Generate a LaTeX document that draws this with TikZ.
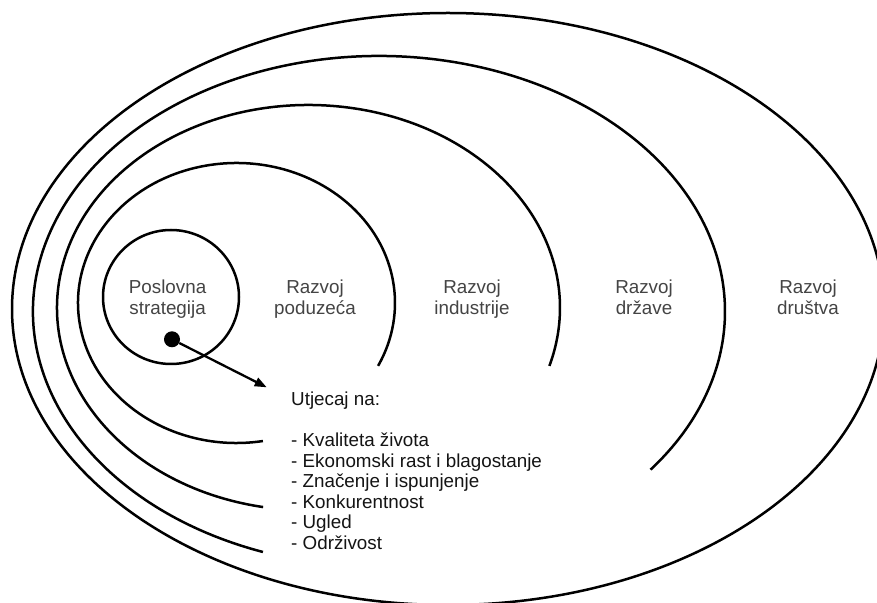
\documentclass[tikz,border=0pt]{standalone}
\usepackage{fontspec}
\setmainfont{Liberation Sans}
\usetikzlibrary{arrows.meta}
\definecolor{labelgray}{RGB}{68,68,68}
\tikzset{
  ring/.style={line width=2.5pt, draw=black},
  lbl/.style={font=\fontsize{18.8}{20.5}\selectfont, text=labelgray, align=center, inner sep=0pt},
  listtext/.style={font=\fontsize{18.8}{20.5}\selectfont, text=black!92, align=left, inner sep=0pt, anchor=north west},
  dotnode/.style={circle, fill=black, minimum size=16pt, inner sep=0pt},
  pointer/.style={line width=2.3pt, -{Triangle[length=12pt,width=9pt]}},
}
\begin{document}
\begin{tikzpicture}[x=1pt,y=1pt]
\useasboundingbox (0,0) rectangle (877,602);
\clip (0,0) rectangle (877,602);
\fill[white] (0,0) rectangle (877,602);

% society: the closed outer ellipse
\draw[ring] (448,293) ellipse [x radius=436, y radius=296];
% state: open arc
\draw[ring] ([shift={(250.4:346 and 255.4)}]379,290.6)
  arc[start angle=250.4, end angle=-38.3, x radius=346, y radius=255.4];
% industry: open arc
\draw[ring] ([shift={(259.6:251.5 and 202.7)}]308.5,294.3)
  arc[start angle=259.6, end angle=-16.7, x radius=251.5, y radius=202.7];
% company: open arc
\draw[ring] ([shift={(279.6:158.5 and 140)}]236.5,299)
  arc[start angle=279.6, end angle=-26.7, x radius=158.5, y radius=140];
% business strategy core
\draw[ring] (171,305) ellipse [x radius=68, y radius=67];

% labels of the rings
\node[lbl] (strategy) at (167.6,301.9) {\strut Poslovna\\\strut strategija};
\node[lbl] (company)  at (315,301.9) {\strut Razvoj\\\strut poduzeća};
\node[lbl] (industry) at (472,301.9) {\strut Razvoj\\\strut industrije};
\node[lbl] (state)    at (644,301.9) {\strut Razvoj\\\strut države};
\node[lbl] (society)  at (808,301.9) {\strut Razvoj\\\strut društva};

% influence pointer
\node[dotnode] (src) at (172,262.7) {};
\coordinate (tip) at (266.7,214.7);
\draw[pointer] (src) -- (tip);

% list of influences
\node[listtext] (impact) at (291,210.65) {\strut Utjecaj na:\\
\strut\\
\strut - Kvaliteta života\\
\strut - Ekonomski rast i blagostanje\\
\strut - Značenje i ispunjenje\\
\strut - Konkurentnost\\
\strut - Ugled\\
\strut - Održivost};
\end{tikzpicture}
\end{document}
